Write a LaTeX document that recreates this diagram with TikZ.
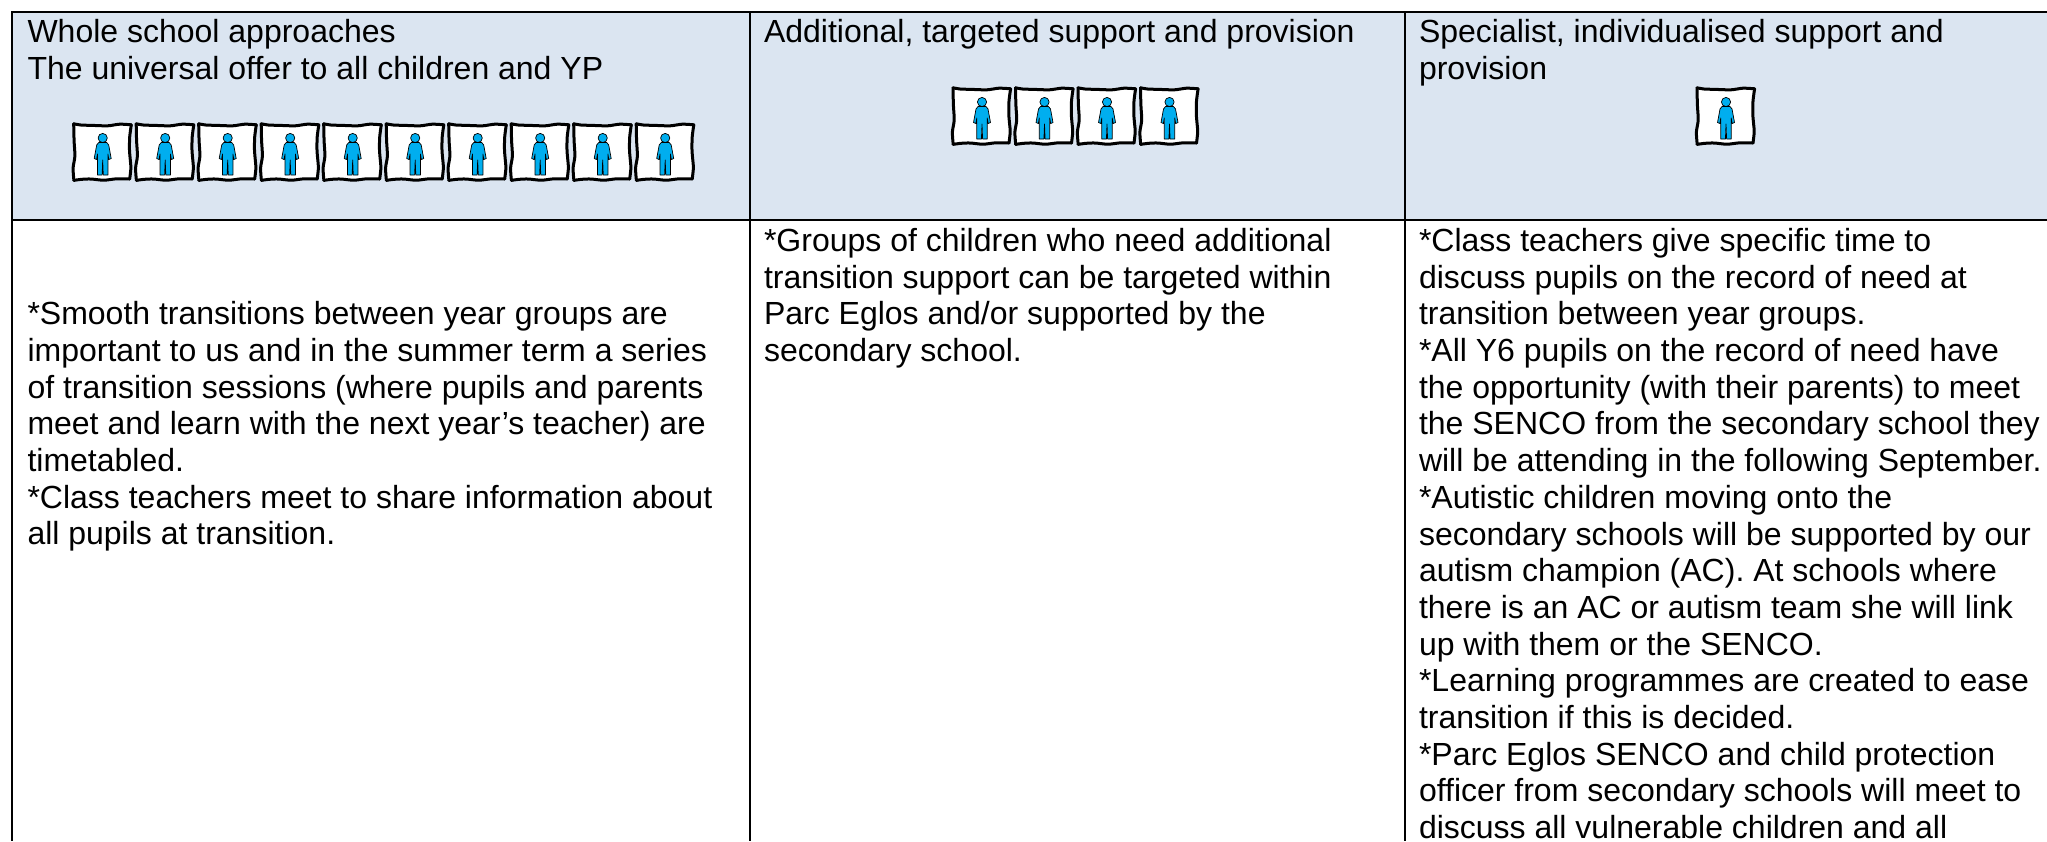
\documentclass[tikz,border=0pt]{standalone}
\usepackage{fontspec}
\setmainfont[Ligatures=NoCommon]{Liberation Sans}
\definecolor{headfill}{HTML}{DBE5F1}
\definecolor{kidblue}{HTML}{00AEEF}
\tikzset{
  x=1pt,y=-1pt,
  rule/.style={draw=black,line width=2.4pt},
  cell/.style={anchor=north west,inner sep=0pt,outer sep=0pt,align=left,text=black,
    font=\fontsize{32}{36.7}\selectfont},
  kidedge/.style={draw=black,line width=3pt,line cap=round},
  kidbody/.style={draw=black,fill=kidblue,line width=0.7pt,line join=round},
  pics/kid/.style={code={
    \fill[white] (1,1) rectangle (58,56);
    \draw[kidedge] plot[smooth,tension=0.5] coordinates {(1,0.8) (8,2) (20,2.4) (35,2.8) (47,1.2) (58.6,1.8)};
    \draw[kidedge] plot[smooth,tension=0.5] coordinates {(58.6,1.8) (57,14) (56.8,27) (57.6,37) (58.2,45) (57,56)};
    \draw[kidedge] plot[smooth,tension=0.5] coordinates {(57,56) (44,55.8) (31,57.2) (18,56) (8,56.4) (1.2,57.4)};
    \draw[kidedge] plot[smooth,tension=0.5] coordinates {(1.2,57.4) (0.4,45) (2.2,33) (1.4,18) (1,0.8)};
    \path[kidbody] (30,15) circle (4.6);
    \path[kidbody] (26,19.5) -- (24,22) -- (21.5,35.5) -- (23.8,36.5) -- (24.8,31)
      -- (24.8,52) -- (29.4,52) -- (30,37) -- (30.6,52) -- (35.2,52) -- (35.2,31)
      -- (36.2,36.5) -- (38.5,35.5) -- (36,22) -- (34,19.5) -- cycle;
  }}
}
\begin{document}
\begin{tikzpicture}
\useasboundingbox (0,0) rectangle (2047,841);
\clip (0,0) rectangle (2047,841);
\fill[headfill] (12,12) rectangle (2047,220);
\draw[rule] (2047,12) -- (12,12) -- (12,841);
\draw[rule] (12,220) -- (2047,220);
\draw[rule] (750,12) -- (750,841);
\draw[rule] (1405,12) -- (1405,841);
\node[cell] (h1) at (27.5,17) {\strut Whole school approaches\\The universal offer to all children and YP};
\node[cell] (h2) at (764,17) {\strut Additional, targeted support and provision};
\node[cell] (h3) at (1419,17) {\strut Specialist, individualised support and\\provision};
\foreach \i in {0,...,9} \pic at ({72.7+62.5*\i},123) {kid};
\foreach \i in {0,...,3} \pic at ({952+62.5*\i},87) {kid};
\pic at (1696,87) {kid};
\node[cell] (b1) at (27.5,299) {\strut *Smooth transitions between year groups are\\important to us and in the summer term a series\\of transition sessions (where pupils and parents\\meet and learn with the next year’s teacher) are\\timetabled.\\*Class teachers meet to share information about\\all pupils at transition.};
\node[cell] (b2) at (764,225.7) {\strut *Groups of children who need additional\\transition support can be targeted within\\Parc Eglos and/or supported by the\\secondary school.};
\node[cell] (b3) at (1419,225.7) {\strut *Class teachers give specific time to\\discuss pupils on the record of need at\\transition between year groups.\\*All Y6 pupils on the record of need have\\the opportunity (with their parents) to meet\\the SENCO from the secondary school they\\will be attending in the following September.\\*Autistic children moving onto the\\secondary schools will be supported by our\\autism champion (AC). At schools where\\there is an AC or autism team she will link\\up with them or the SENCO.\\*Learning programmes are created to ease\\transition if this is decided.\\*Parc Eglos SENCO and child protection\\officer from secondary schools will meet to\\discuss all vulnerable children and all};
\end{tikzpicture}
\end{document}
